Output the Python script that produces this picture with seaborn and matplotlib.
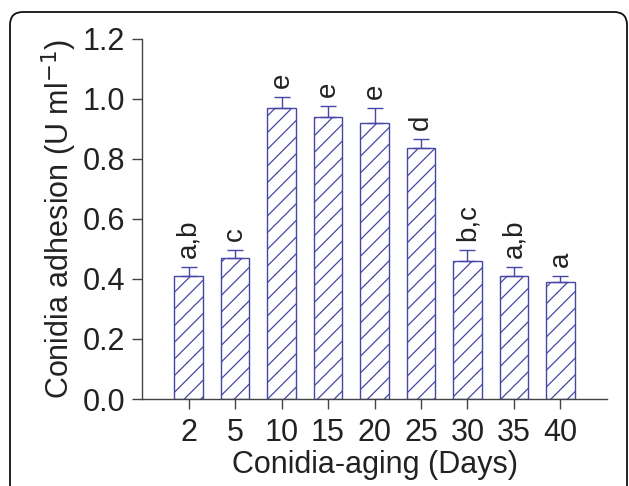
import numpy as np
import matplotlib
matplotlib.use("Agg")
import matplotlib.pyplot as plt
from matplotlib.patches import FancyBboxPatch
import seaborn as sns

DAYS    = ["2", "5", "10", "15", "20", "25", "30", "35", "40"]
ADHES   = [0.41, 0.47, 0.97, 0.94, 0.92, 0.835, 0.46, 0.41, 0.39]
SEM     = [0.03, 0.028, 0.036, 0.036, 0.05, 0.03, 0.037, 0.03, 0.02]
LETTERS = ["a,b", "c", "e", "e", "e", "d", "b,c", "a,b", "a"]

BLUE = "#4646a6"
AXC  = "#444444"
TXT  = "#222222"

sns.set_style("ticks")
plt.rcParams["font.family"] = ["Liberation Sans", "DejaVu Sans"]
plt.rcParams["hatch.linewidth"] = 0.9

fig = plt.figure(figsize=(6.29, 4.86), dpi=100)
ax = fig.add_axes([0.2258, 0.179, 0.7392, 0.741])

sns.barplot(x=DAYS, y=ADHES, ax=ax, color="white", saturation=1,
            width=0.62, edgecolor=BLUE, linewidth=1.0, hatch="//")

x = np.arange(len(DAYS))
ax.errorbar(x, ADHES, yerr=[np.zeros(len(SEM)), SEM], fmt="none",
            ecolor=BLUE, elinewidth=1.0, capsize=5.5, capthick=1.0)

# significance letters above the error bars
for xi, v, e, lab in zip(x, ADHES, SEM, LETTERS):
    ax.text(xi, v + e + 0.03, lab, rotation=90, ha="center", va="bottom",
            fontsize=20, color=TXT)

ax.set_xlim(-1, len(DAYS))
ax.set_ylim(0, 1.2)
ax.set_yticks(np.arange(0, 1.21, 0.2))
ax.set_yticklabels([f"{t:.1f}" for t in np.arange(0, 1.21, 0.2)])
ax.set_xlabel("Conidia-aging (Days)", fontsize=22, color=TXT, labelpad=1)
ax.set_ylabel("Conidia adhesion (U ml$^{-1}$)", fontsize=22, color=TXT, labelpad=3)
ax.tick_params(axis="both", labelsize=22, colors=TXT, length=7, width=1.0,
               direction="out", pad=5)
ax.tick_params(axis="x", pad=7)
ax.tick_params(axis="both", color=AXC)
sns.despine(ax=ax)
for s in ["left", "bottom"]:
    ax.spines[s].set_color(AXC)
    ax.spines[s].set_linewidth(1.0)

# rounded frame around the figure, open at the bottom edge
frame = FancyBboxPatch((0.10, -0.4), 6.17, 5.14,
                       boxstyle="round,pad=0,rounding_size=0.13",
                       transform=fig.dpi_scale_trans, fill=False,
                       edgecolor="#111111", linewidth=1.3, clip_on=False)
fig.patches.append(frame)

fig.savefig("out.png", dpi=100)
